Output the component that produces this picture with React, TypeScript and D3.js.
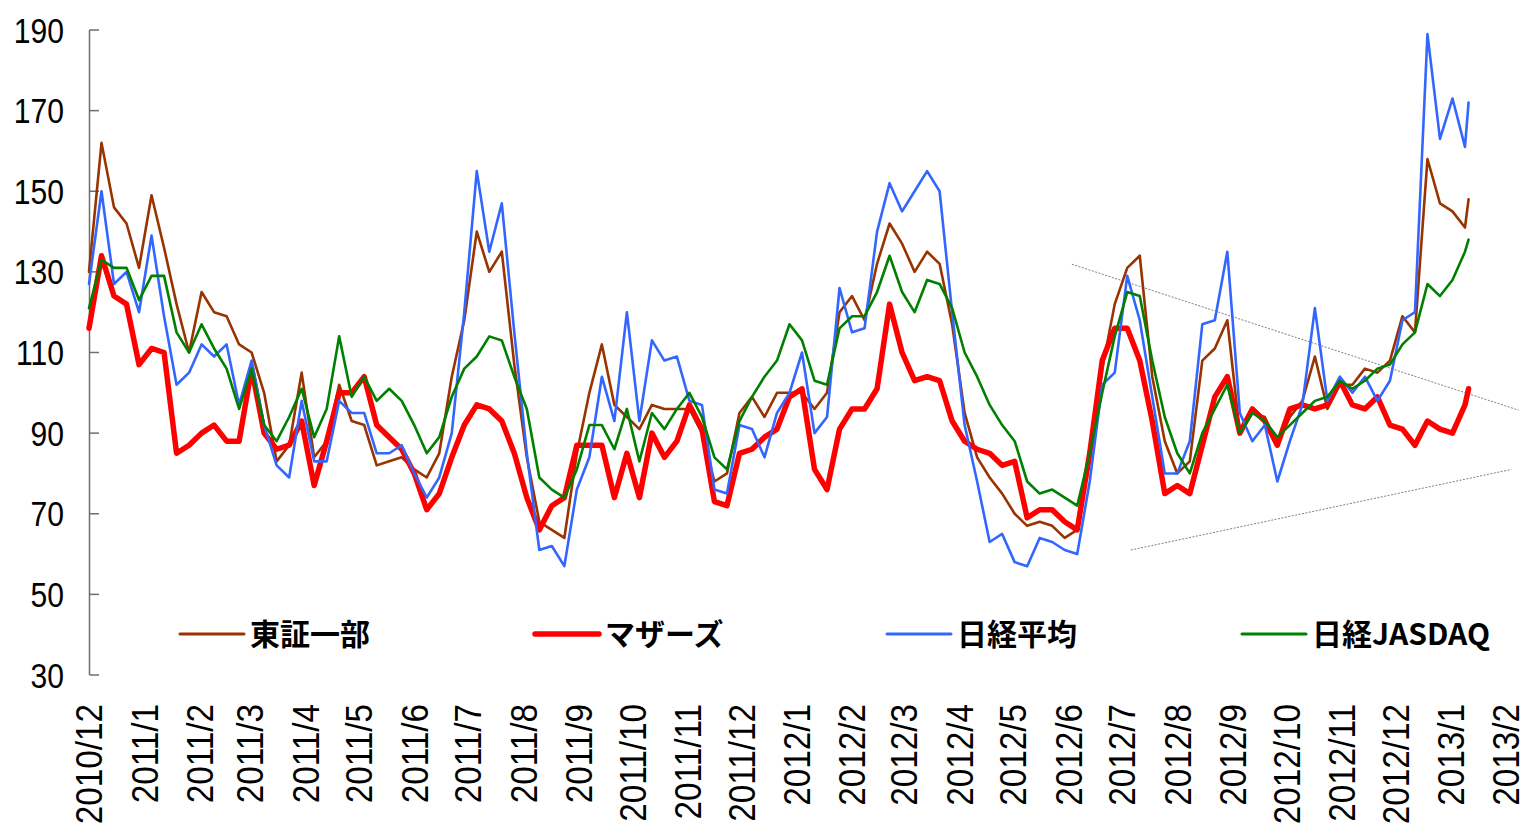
import React, { useEffect, useRef } from "react";
import * as d3 from "d3";

// weekly sample dates, plus the last two trading days
const startDate = new Date(2010, 11, 1);
const dates: Date[] = [
  ...d3.range(110).map((i) => d3.timeDay.offset(startDate, i * 7)),
  new Date(2013, 0, 9),
  new Date(2013, 0, 11),
];

const yTicks = [30, 50, 70, 90, 110, 130, 150, 170, 190];
const monthTicks = d3.timeMonth.range(new Date(2010, 11, 1), new Date(2013, 1, 2));

const seriesNames = ["東証一部", "マザーズ", "日経平均", "日経JASDAQ"];

const topix = [
  130, 162, 146, 142, 131, 149, 136, 122, 110, 125, 120, 119, 112,
  110, 100, 83, 87, 105, 84, 88, 102, 93, 92, 82, 83, 84, 81, 79, 85,
  104, 118, 140, 130, 135, 107, 84, 68, 66, 64, 85, 100, 112, 97, 94, 91,
  97, 96, 96, 96, 90, 78, 80, 95, 99, 94, 100, 100, 100, 96, 100,
  120, 124, 118, 132, 142, 137, 130, 135, 132, 117, 95, 84, 79, 75, 70,
  67, 68, 67, 64, 66, 83, 106, 122, 131, 134, 104,
  88, 80, 83, 108, 111, 118, 90, 95, 94, 87, 94, 98, 109, 96, 102, 102,
  106, 105, 108, 119, 115, 158, 147, 145, 141, 148,
];

const mothers = [
  116, 134, 124, 122, 107, 111, 110, 85, 87, 90, 92, 88, 88,
  106, 90, 86, 87, 93, 77, 88, 100, 100, 104, 92, 89, 86, 80, 71, 75,
  84, 92, 97, 96, 93, 85, 74, 66, 72, 74, 87, 87, 87, 74, 85, 74,
  90, 84, 88, 97, 91, 73, 72, 85, 86, 89, 91, 99, 101, 81, 76,
  91, 96, 96, 101, 122, 110, 103, 104, 103, 93, 88, 86, 85, 82, 83,
  69, 71, 71, 68, 66, 85, 108, 116, 116, 108, 93,
  75, 77, 75, 87, 99, 104, 90, 96, 93, 87, 96, 97, 96, 97, 103, 97,
  96, 99, 92, 91, 87, 93, 91, 90, 97, 101,
];

const nikkei = [
  127, 150, 127, 130, 120, 139, 119, 102, 105, 112, 109, 112, 97,
  108, 92, 82, 79, 98, 83, 83, 98, 95, 95, 85, 85, 87, 80, 74, 79,
  90, 120, 155, 135, 147, 115, 85, 61, 62, 57, 76, 84, 104, 93, 120, 93,
  113, 108, 109, 98, 97, 76, 75, 92, 91, 84, 95, 100, 110, 90, 94,
  126, 115, 116, 140, 152, 145, 150, 155, 150, 120, 92, 78, 63, 65, 58,
  57, 64, 63, 61, 60, 78, 102, 105, 129, 118, 99,
  80, 80, 88, 117, 118, 135, 95, 88, 92, 78, 88, 97, 121, 98, 104, 100,
  104, 98, 103, 118, 120, 189, 163, 173, 161, 172,
];

const jasdaq = [
  121, 133, 131, 131, 123, 129, 129, 115, 110, 117, 111, 106, 96,
  106, 92, 88, 94, 101, 89, 96, 114, 99, 104, 98, 101, 98, 92, 85, 89,
  99, 106, 109, 114, 113, 104, 96, 79, 76, 74, 81, 92, 92, 86, 96, 83,
  95, 91, 96, 100, 94, 84, 81, 93, 99, 104, 108, 117, 113, 103, 102,
  116, 119, 119, 125, 134, 125, 120, 128, 127, 121, 110, 104, 97, 92, 88,
  78, 75, 76, 74, 72, 85, 100, 114, 125, 124, 108,
  94, 85, 80, 90, 96, 102, 90, 95, 93, 89, 92, 95, 98, 99, 103, 101,
  103, 106, 107, 112, 115, 127, 124, 128, 135, 138,
];

// dotted trend lines: [date, value] endpoints
const upperTrend: [Date, number][] = [
  [new Date(2012, 5, 3), 131.9],
  [new Date(2013, 1, 8), 95.7],
];
const lowerTrend: [Date, number][] = [
  [new Date(2012, 6, 6), 61],
  [new Date(2013, 1, 4), 81],
];

const colors = ["#993300", "#FF0000", "#3366FF", "#008000"];
const widths = [2.6, 5.5, 2.6, 2.6];

const App = () => {
  const chartRef = useRef<HTMLDivElement>(null);

  useEffect(() => {
    document.body.style.margin = "0";
    const width = 1530;
    const height = 833;

    const x = d3
      .scaleTime()
      .domain([new Date(2010, 11, 1), new Date(2013, 1, 5)])
      .range([89, 89 + 797 * 1.787]);
    const y = d3.scaleLinear().domain([30, 190]).range([675, 30]);

    const svg = d3
      .select(chartRef.current)
      .append("svg")
      .attr("width", width)
      .attr("height", height)
      .style("display", "block")
      .style("background", "#fff");

    // y axis
    svg
      .append("line")
      .attr("x1", 89.5)
      .attr("x2", 89.5)
      .attr("y1", y(190))
      .attr("y2", y(30))
      .attr("stroke", "#6e6e6e")
      .attr("stroke-width", 1.5);

    svg
      .selectAll(".ytick")
      .data(yTicks)
      .enter()
      .append("line")
      .attr("x1", 89.5)
      .attr("x2", 99)
      .attr("y1", (d) => y(d))
      .attr("y2", (d) => y(d))
      .attr("stroke", "#6e6e6e")
      .attr("stroke-width", 1.5);

    svg
      .selectAll(".ylabel")
      .data(yTicks)
      .enter()
      .append("text")
      .attr("transform", (d) => `translate(64, ${y(d)}) scale(0.86, 1)`)
      .attr("text-anchor", "end")
      .attr("dy", "0.36em")
      .style("font-family", "'Liberation Sans', Arial, sans-serif")
      .style("font-size", "35px")
      .text((d) => d);

    // month labels
    svg
      .selectAll(".xlabel")
      .data(monthTicks)
      .enter()
      .append("text")
      .attr("transform", (d) => `translate(${x(d)}, 704) rotate(-90) scale(0.9, 1)`)
      .attr("text-anchor", "end")
      .attr("dy", "0.36em")
      .style("font-family", "'Liberation Sans', Arial, sans-serif")
      .style("font-size", "37px")
      .text((d) => `${d.getFullYear()}/${d.getMonth() + 1}`);

    // trend lines
    const trend = d3
      .line<[Date, number]>()
      .x((d) => x(d[0]))
      .y((d) => y(d[1]));
    [upperTrend, lowerTrend].forEach((t) => {
      svg
        .append("path")
        .attr("d", trend(t))
        .attr("fill", "none")
        .attr("stroke", "#7f7f7f")
        .attr("stroke-width", 1)
        .attr("stroke-dasharray", "2,1.5");
    });

    // series
    const line = d3
      .line<number>()
      .x((_, i) => x(dates[i]))
      .y((d) => y(d));
    [topix, mothers, nikkei, jasdaq].forEach((s, k) => {
      svg
        .append("path")
        .attr("d", line(s))
        .attr("fill", "none")
        .attr("stroke", colors[k])
        .attr("stroke-width", widths[k])
        .attr("stroke-linejoin", "round")
        .attr("stroke-linecap", "round");
    });

    // legend
    const legendX = [180, 535, 887, 1242];
    const g = svg
      .selectAll(".legend")
      .data(seriesNames)
      .enter()
      .append("g")
      .attr("transform", (_, i) => `translate(${legendX[i]}, 634)`);
    g.append("line")
      .attr("x1", 0)
      .attr("x2", 64)
      .attr("stroke", (_, i) => colors[i])
      .attr("stroke-width", (_, i) => (i === 1 ? 5.5 : 3))
      .attr("stroke-linecap", "round");
    g.append("text")
      .attr("x", 70)
      .attr("dy", "0.36em")
      .style("font-family", "'Noto Sans CJK JP', sans-serif")
      .style("font-weight", "700")
      .style("font-size", "30px")
      .text((d) => d);

    return () => {
      d3.select(chartRef.current).selectAll("svg").remove();
    };
  }, []);

  return <div ref={chartRef}></div>;
};

export default App;
